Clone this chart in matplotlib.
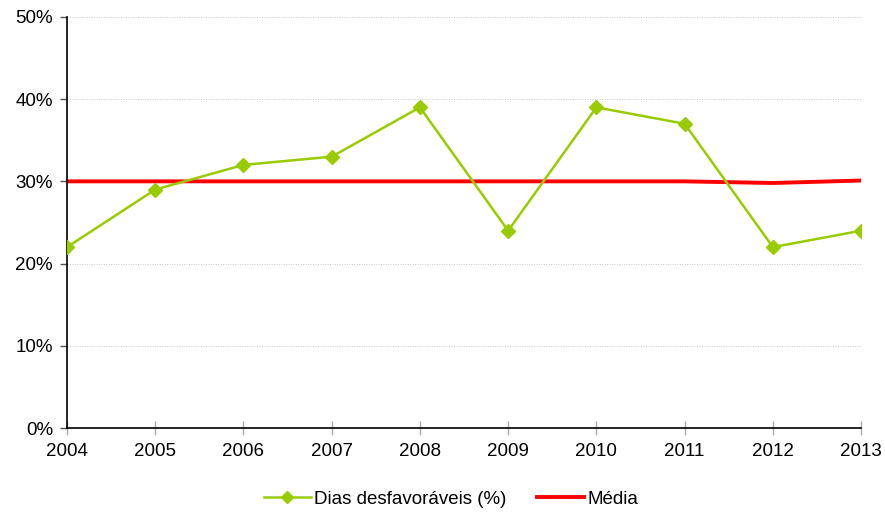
import matplotlib
matplotlib.use("Agg")
import matplotlib.pyplot as plt
from matplotlib.ticker import FuncFormatter

plt.rcParams['font.family'] = ['Liberation Sans', 'DejaVu Sans']

years = [2004, 2005, 2006, 2007, 2008, 2009, 2010, 2011, 2012, 2013]
dias_desfavoraveis = [22, 29, 32, 33, 39, 24, 39, 37, 22, 24]
media = [30, 30, 30, 30, 30, 30, 30, 30, 29.8, 30.1]

fig = plt.figure(figsize=(8.85, 5.12), dpi=100)
ax = fig.add_axes([0.0757, 0.164, 0.8973, 0.803])

green = '#99CC00'
red = '#FF0000'

ax.plot(years, dias_desfavoraveis, color=green, lw=1.8, marker='D', ms=7.5,
        label='Dias desfavoráveis (%)', zorder=3)
ax.plot(years, media, color=red, lw=2.8, label='Média', zorder=2)

ax.set_xlim(2004, 2013)
ax.set_ylim(0, 50)
ax.set_xticks(years)
ax.set_yticks(range(0, 51, 10))
ax.yaxis.set_major_formatter(FuncFormatter(lambda v, p: f'{int(v)}%'))

ax.grid(axis='y', color='#C8C8C8', ls=(0, (1, 1.5)), lw=0.7)
ax.set_axisbelow(True)

for s in ['top', 'right']:
    ax.spines[s].set_visible(False)
for s in ['left', 'bottom']:
    ax.spines[s].set_color('black')
    ax.spines[s].set_linewidth(1.2)

ax.tick_params(axis='y', direction='out', length=5, width=1, color='#555555',
               labelsize=13.5, pad=5)
ax.tick_params(axis='x', direction='inout', length=10, width=1, color='#AAAAAA',
               labelsize=13.5, pad=6)

ax.legend(loc='center', bbox_to_anchor=(0.4836, -0.173), ncol=2,
          frameon=False, fontsize=13.5, handlelength=2.5, handletextpad=0.2,
          columnspacing=1.6, markerscale=0.8)

fig.savefig('out.png', dpi=100)
